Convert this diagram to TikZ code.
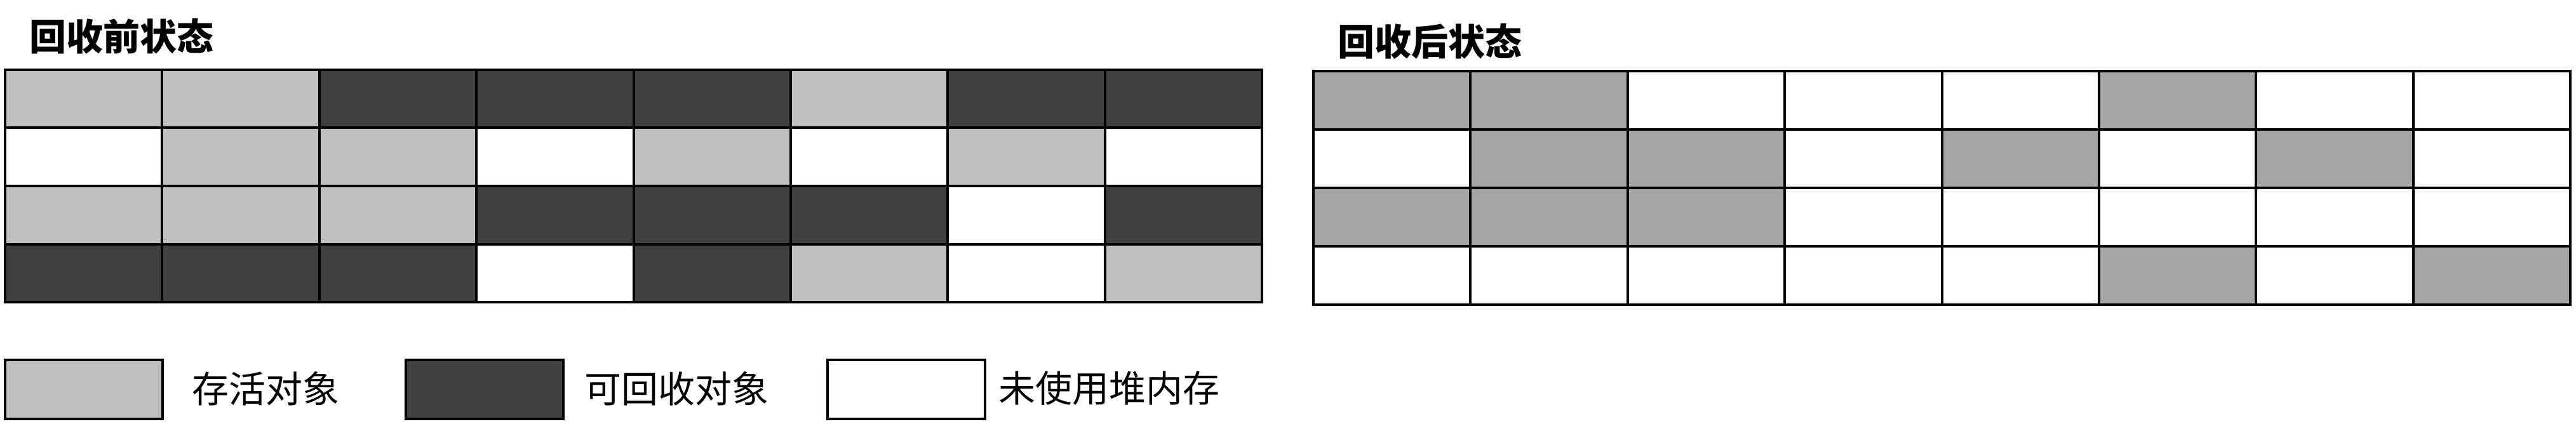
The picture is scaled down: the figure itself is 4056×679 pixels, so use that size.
\documentclass[tikz,border=0pt]{standalone}
\usepackage{fontspec}
\newfontfamily\cjk{Noto Sans CJK SC}
\definecolor{cL}{HTML}{BFBFBF}
\definecolor{cD}{HTML}{404040}
\definecolor{cW}{HTML}{FFFFFF}
\definecolor{cG}{HTML}{A5A5A5}
\tikzset{
  cell/.style={draw=black, line width=4pt, inner sep=0pt, outer sep=0pt,
    minimum width=247.375pt, minimum height=91.5pt},
  cellb/.style={cell, minimum height=92pt},
  keybox/.style={draw=black, line width=4pt, inner sep=0pt, outer sep=0pt,
    minimum width=248pt, minimum height=93pt},
  title/.style={font=\cjk\bfseries\fontsize{58}{64}\selectfont, inner sep=0pt, anchor=west},
  keytext/.style={font=\cjk\fontsize{58}{64}\selectfont, inner sep=0pt, anchor=west}
}
\begin{document}
\begin{tikzpicture}[x=1pt,y=-1pt]
\useasboundingbox (0,0) rectangle (4056,679);
\fill[white] (0,0) rectangle (4056,679);
% titles
\node[title] (t1) at (46,57) {回收前状态};
\node[title] (t2) at (2106,65) {回收后状态};
% before grid
\foreach \row [count=\r] in {{L,L,D,D,D,L,D,D},{W,L,L,W,L,W,L,W},{L,L,L,D,D,D,W,D},{D,D,D,W,D,L,W,L}}{
  \foreach \c [count=\k] in \row {
    \node[cell, fill=c\c] (b-\r-\k) at ({8+(\k-0.5)*247.375},{110+(\r-0.5)*91.5}) {};
  }
}
% after grid
\foreach \row [count=\r] in {{G,G,W,W,W,G,W,W},{W,G,G,W,G,W,G,W},{G,G,G,W,W,W,W,W},{W,W,W,W,W,G,W,G}}{
  \foreach \c [count=\k] in \row {
    \node[cellb, fill=c\c] (a-\r-\k) at ({2068+(\k-0.5)*247.375},{112+(\r-0.5)*92}) {};
  }
}
% legend
\node[keybox, fill=cL] (k1) at (132,613.5) {};
\node[keytext] (k1t) at (302,612) {存活对象};
\node[keybox, fill=cD] (k2) at (762.5,613.5) {};
\node[keytext] (k2t) at (920,612) {可回收对象};
\node[keybox, fill=cW] (k3) at (1427,613.5) {};
\node[keytext] (k3t) at (1572,612) {未使用堆内存};
\end{tikzpicture}
\end{document}
